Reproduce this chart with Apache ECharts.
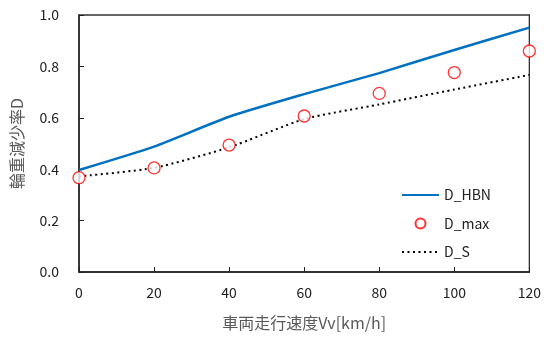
<!DOCTYPE html>
<html><head><meta charset="utf-8">
<script src="https://cdn.jsdelivr.net/npm/echarts@6/dist/echarts.min.js"></script>
<style>html,body{margin:0;padding:0;background:#fff}#c{width:544px;height:338px}</style>
</head><body><div id="c"></div>
<script>
const speeds = [0, 20, 40, 60, 80, 100, 120];
const dHBN = [0.397, 0.488, 0.604, 0.692, 0.774, 0.864, 0.951];
const dMax = [0.367, 0.405, 0.494, 0.607, 0.695, 0.776, 0.860];
const dS = [0.372, 0.405, 0.485, 0.595, 0.652, 0.710, 0.767];
const xTicks = [0, 20, 40, 60, 80, 100, 120];
const yTicks = [0.0, 0.2, 0.4, 0.6, 0.8, 1.0];
const font = '"Noto Sans CJK JP", "Noto Sans", sans-serif';
const pair = (xs, ys) => xs.map((x, i) => [x, ys[i]]);
const chart = echarts.init(document.getElementById('c'), null, {renderer: 'canvas'});
chart.setOption({
  animation: false,
  grid: {left: 79, top: 15, right: 13, bottom: 66, show: true, borderColor: '#333', borderWidth: 1.3},
  xAxis: {
    type: 'value', min: xTicks[0], max: xTicks[xTicks.length - 1], interval: 20,
    name: '車両走行速度Vv[km/h]', nameLocation: 'middle', nameGap: 43,
    nameTextStyle: {fontFamily: font, fontSize: 16, color: '#595959'},
    axisLine: {show: true, onZero: false, lineStyle: {color: '#222', width: 1.5}},
    axisTick: {show: true, inside: true, length: 5, lineStyle: {color: '#222'}},
    axisLabel: {fontFamily: font, fontSize: 14, color: '#222', margin: 14},
    splitLine: {show: false}
  },
  yAxis: {
    type: 'value', min: yTicks[0], max: yTicks[yTicks.length - 1], interval: 0.2,
    name: '輪重減少率D', nameLocation: 'middle', nameGap: 54,
    nameTextStyle: {fontFamily: font, fontSize: 16, color: '#595959'},
    axisLine: {show: true, lineStyle: {color: '#222', width: 1.5}},
    axisTick: {show: true, inside: true, length: 5, lineStyle: {color: '#222'}},
    axisLabel: {fontFamily: font, fontSize: 14, color: '#222', margin: 20, formatter: v => v.toFixed(1)},
    splitLine: {show: false}
  },
  legend: {
    orient: 'vertical', left: 396, top: 183, itemWidth: 37, itemHeight: 10, itemGap: 14.5,
    textStyle: {fontFamily: font, fontSize: 14, color: '#222'},
    data: [
      {name: 'D_HBN', itemStyle: {opacity: 0}},
      {name: 'D_max'},
      {name: 'D_S', itemStyle: {opacity: 0}}
    ]
  },
  series: [
    {name: 'D_HBN', type: 'line', data: pair(speeds, dHBN), smooth: 0.2, symbol: 'none',
     lineStyle: {color: '#0070C0', width: 2.5}, itemStyle: {color: '#0070C0'}, z: 2},
    {name: 'D_S', type: 'line', data: pair(speeds, dS), smooth: 0.2, symbol: 'none',
     lineStyle: {color: '#000', width: 2, type: [2, 3.5]}, itemStyle: {color: '#000'}, z: 3},
    {name: 'D_max', type: 'scatter', data: pair(speeds, dMax), symbol: 'circle', symbolSize: 12,
     itemStyle: {color: '#fff', borderColor: '#FF0000', borderWidth: 1.3}, z: 4}
  ]
});
</script></body></html>
